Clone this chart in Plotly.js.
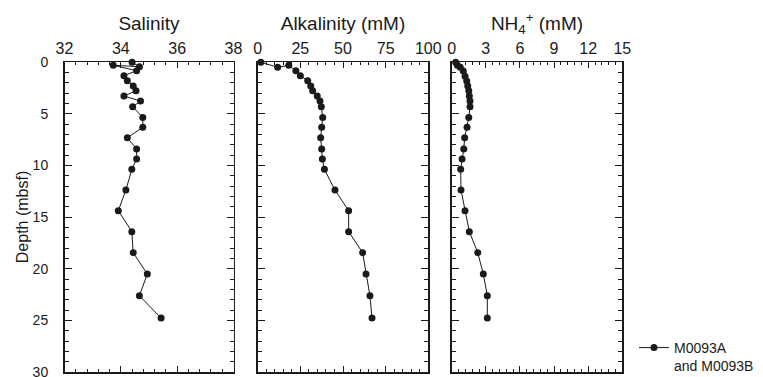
<!DOCTYPE html>
<html>
<head>
<meta charset="utf-8">
<script src="https://cdn.plot.ly/plotly-3.0.1.min.js"></script>
<style>html,body{margin:0;padding:0;background:#fff;}#chart{width:763px;height:377px;}</style>
</head>
<body>
<div id="chart"></div>
<script>
// ---- data ----
const seriesName = "M0093A<br>and M0093B";
const salinityDepth = [0.03, 0.45, 0.32, 0.84, 1.32, 1.81, 2.32, 2.78, 3.29, 3.78, 4.33, 5.36, 6.32, 7.33, 8.42, 9.39, 10.39, 12.39, 14.39, 16.42, 18.45, 20.52, 22.62, 24.78];
const salinity      = [34.4, 34.66, 33.73, 34.56, 34.11, 34.23, 34.44, 34.54, 34.11, 34.70, 34.42, 34.78, 34.78, 34.23, 34.56, 34.56, 34.39, 34.18, 33.91, 34.39, 34.44, 34.94, 34.66, 35.43];
const alkDepth      = [0.03, 0.5, 0.32, 0.84, 1.32, 1.81, 2.32, 2.78, 3.29, 3.78, 4.33, 5.36, 6.32, 7.33, 8.42, 9.39, 10.39, 12.39, 14.39, 16.42, 18.45, 20.52, 22.62, 24.78];
const alkalinity    = [1.8, 11.7, 18.2, 22.4, 25.0, 29.3, 31.1, 32.2, 34.9, 36.5, 37.3, 38.1, 37.5, 36.9, 37.5, 37.9, 39.1, 45.3, 53.3, 53.3, 61.5, 63.5, 65.8, 67.0];
const nh4Depth      = [0.03, 0.32, 0.5, 0.88, 1.38, 1.83, 2.32, 2.78, 3.29, 3.78, 4.33, 5.36, 6.32, 7.33, 8.42, 9.39, 10.39, 12.39, 14.39, 16.42, 18.45, 20.52, 22.62, 24.78];
const ammonium      = [0.35, 0.5, 0.75, 1.02, 1.17, 1.32, 1.41, 1.50, 1.55, 1.61, 1.61, 1.50, 1.35, 1.14, 1.06, 0.91, 0.79, 0.82, 1.17, 1.55, 2.29, 2.78, 3.13, 3.13];
const panelTitles   = ["Salinity", "Alkalinity (mM)", "NH<sub>4</sub><sup>+</sup> (mM)"];
const xRanges       = [[32, 38], [0, 100], [0, 15]];
const xMajor        = [2, 25, 3];
const xMinor        = [0.4, 5, 0.6];
const depthRange    = [30, 0];
const depthTitle    = "Depth (mbsf)";

// ---- layout helpers ----
const W = 763, H = 377;
const FONT = "Liberation Sans, Arial, Helvetica, sans-serif";
const INK = "#1a1a1a";
const panelsPx = [[64.5, 233.5], [257.7, 428.3], [451.7, 622.3]];
const yDom = [1 - 372 / H, 1 - 62 / H];

const traces = [];
const dataX = [salinity, alkalinity, ammonium];
const dataY = [salinityDepth, alkDepth, nh4Depth];
for (let i = 0; i < 3; i++) {
  traces.push({
    type: "scatter", mode: "lines+markers",
    x: dataX[i], y: dataY[i],
    xaxis: i === 0 ? "x" : "x" + (i + 1),
    yaxis: i === 0 ? "y" : "y" + (i + 1),
    name: seriesName, showlegend: i === 0,
    line: {color: INK, width: 1},
    marker: {color: INK, size: 7},
    cliponaxis: false
  });
}

const layout = {
  width: W, height: H,
  margin: {l: 0, r: 0, t: 0, b: 0, autoexpand: false},
  paper_bgcolor: "#fff", plot_bgcolor: "#fff",
  font: {family: FONT, color: INK, size: 14},
  showlegend: true,
  legend: {x: 634 / W, y: -5 / H, xanchor: "left", yanchor: "bottom",
           bgcolor: "rgba(0,0,0,0)", borderwidth: 0,
           font: {size: 14, family: FONT, color: INK},
           valign: "top", itemwidth: 30, tracegroupgap: 0}
};

for (let i = 0; i < 3; i++) {
  const sx = i === 0 ? "" : String(i + 1);
  layout["xaxis" + sx] = {
    domain: [panelsPx[i][0] / W, panelsPx[i][1] / W],
    anchor: "y" + sx, side: "top", range: xRanges[i],
    dtick: xMajor[i], tick0: 0,
    ticks: "inside", ticklen: 6, tickwidth: 1, tickcolor: INK,
    minor: {dtick: xMinor[i], tick0: 0, ticks: "inside", ticklen: 3, tickwidth: 1, tickcolor: INK},
    mirror: "allticks", showline: true, linecolor: INK, linewidth: 1.5,
    showgrid: false, zeroline: false, ticklabeloverflow: "allow",
    tickfont: {size: 16, family: FONT, color: INK},
    title: {text: panelTitles[i], font: {size: 19, family: FONT, color: INK}, standoff: 4},
    fixedrange: true
  };
  layout["yaxis" + sx] = {
    domain: yDom, anchor: "x" + sx, range: depthRange,
    dtick: 5, tick0: 0,
    ticks: "inside", ticklen: 7, tickwidth: 1, tickcolor: INK,
    minor: {dtick: 1, tick0: 0, ticks: "inside", ticklen: 4, tickwidth: 1, tickcolor: INK},
    mirror: "allticks", showline: true, linecolor: INK, linewidth: 1.5,
    showgrid: false, zeroline: false, ticklabeloverflow: "allow",
    showticklabels: i === 0,
    ticklabelstandoff: 12,
    tickfont: {size: 14, family: FONT, color: INK},
    fixedrange: true
  };
  // outer half of the crossing major ticks on the left edge
  layout["yaxis" + (i + 4)] = {
    overlaying: "y" + sx, anchor: "x" + sx, side: "left",
    range: depthRange, dtick: 5, tick0: 0,
    ticks: "outside", ticklen: 5, tickwidth: 1, tickcolor: INK,
    showticklabels: false, showline: false, showgrid: false, zeroline: false,
    fixedrange: true
  };
}
layout.yaxis.title = {text: depthTitle, font: {size: 16, family: FONT, color: INK}, standoff: 0};

Plotly.newPlot("chart", traces, layout, {displayModeBar: false, staticPlot: true});
</script>
</body>
</html>
